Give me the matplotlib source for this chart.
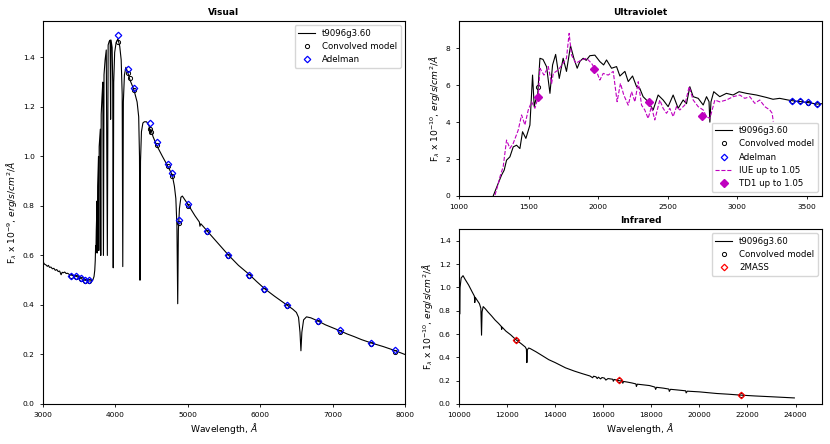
import numpy as np
import matplotlib
matplotlib.use('Agg')
import matplotlib.pyplot as plt

# ---------------- Visual ----------------
vis_wl = [3000, 3020, 3040, 3060, 3075, 3090, 3110, 3130, 3150, 3170, 3190, 3210, 3230, 3250, 3265,
          3280, 3300, 3320, 3340, 3370, 3400, 3430, 3460, 3490, 3520, 3550, 3580, 3610, 3640, 3670,
          3690, 3705, 3715, 3722, 3727, 3731, 3736, 3742, 3747, 3750, 3755, 3762, 3767, 3771, 3776,
          3785, 3792, 3798, 3804, 3815, 3826, 3835, 3843, 3858, 3874, 3889, 3900, 3915, 3928, 3934,
          3940, 3955, 3963, 3970, 3977, 3990, 4010, 4035, 4060, 4080, 4094, 4102, 4110, 4125, 4145,
          4170, 4200, 4255, 4300, 4322, 4333, 4340, 4347, 4360, 4380, 4400, 4430, 4465, 4481, 4490,
          4520, 4570, 4650, 4725, 4785, 4815, 4835, 4850, 4861, 4870, 4885, 4905, 4925, 4960, 5005,
          5100, 5160, 5168, 5180, 5220, 5270, 5300, 5400, 5500, 5560, 5700, 5850, 5950, 6060, 6200,
          6370, 6450, 6500, 6530, 6550, 6563, 6576, 6600, 6640, 6700, 6800, 6900, 7000, 7100, 7200,
          7300, 7400, 7540, 7700, 7850, 8000]
vis_flux = [0.575, 0.565, 0.562, 0.556, 0.560, 0.552, 0.553, 0.546, 0.548, 0.540, 0.543, 0.535, 0.537, 0.522, 0.532,
            0.530, 0.533, 0.527, 0.528, 0.522, 0.520, 0.517, 0.516, 0.511, 0.508, 0.503, 0.500, 0.498, 0.497, 0.497,
            0.502, 0.515, 0.540, 0.580, 0.640, 0.610, 0.700, 0.760, 0.820, 0.610, 0.880, 0.960, 1.000, 0.620, 1.040,
            1.080, 1.110, 0.600, 1.170, 1.240, 1.300, 0.600, 1.330, 1.390, 1.430, 0.600, 1.450, 1.465, 1.470, 1.150,
            1.470, 1.440, 1.300, 0.550, 1.300, 1.420, 1.460, 1.475, 1.445, 1.390, 1.250, 0.555, 1.220, 1.330, 1.360,
            1.340, 1.310, 1.270, 1.220, 1.160, 1.000, 0.500, 0.980, 1.100, 1.135, 1.140, 1.140, 1.125, 1.090, 1.110,
            1.080, 1.045, 1.000, 0.960, 0.925, 0.880, 0.830, 0.720, 0.405, 0.700, 0.790, 0.835, 0.840, 0.825, 0.805,
            0.760, 0.735, 0.718, 0.728, 0.715, 0.698, 0.688, 0.655, 0.622, 0.602, 0.560, 0.523, 0.495, 0.466, 0.435,
            0.400, 0.383, 0.370, 0.350, 0.290, 0.215, 0.290, 0.340, 0.352, 0.348, 0.335, 0.320, 0.308, 0.296, 0.283,
            0.272, 0.260, 0.246, 0.232, 0.217, 0.200]

adel_wl = [3391, 3460, 3520, 3575, 3635, 4035, 4178, 4256, 4472, 4573, 4725, 4785, 4872, 5005,
           5268, 5558, 5847, 6059, 6372, 6804, 7103, 7535, 7857]
adel_flux = [0.519, 0.517, 0.508, 0.500, 0.499, 1.492, 1.355, 1.278, 1.136, 1.058, 0.970, 0.934, 0.743, 0.809,
             0.699, 0.601, 0.522, 0.465, 0.399, 0.336, 0.297, 0.247, 0.218]
conv_vis_wl = [3391, 3460, 3520, 3575, 3635, 4035, 4178, 4200, 4256, 4472, 4490, 4573, 4725, 4785, 4872, 5005,
               5268, 5558, 5847, 6059, 6372, 6804, 7103, 7535, 7857]
conv_vis_flux = [0.516, 0.514, 0.505, 0.497, 0.496, 1.461, 1.335, 1.318, 1.270, 1.112, 1.100, 1.045, 0.960, 0.920, 0.730, 0.800,
                 0.694, 0.598, 0.519, 0.462, 0.396, 0.330, 0.290, 0.241, 0.212]

# ---------------- Ultraviolet ----------------
uv_wl = [1246, 1282, 1306, 1325, 1342, 1366, 1390, 1414, 1438, 1457, 1481, 1510, 1529, 1541, 1552,
         1565, 1582, 1604, 1630, 1654, 1673, 1695, 1721, 1749, 1773, 1802, 1826, 1850, 1870, 1893,
         1915, 1941, 1977, 2013, 2040, 2061, 2097, 2133, 2157, 2193, 2217, 2248, 2277, 2300, 2324,
         2360, 2396, 2432, 2468, 2504, 2540, 2576, 2612, 2636, 2660, 2684, 2720, 2756, 2780, 2798,
         2804, 2812, 2832, 2875, 2923, 2971, 3014, 3067, 3139, 3210, 3258, 3306, 3366, 3397, 3450,
         3510, 3575, 3610]
uv_flux = [0.00, 0.68, 1.13, 1.40, 1.94, 2.12, 2.66, 2.75, 2.57, 3.48, 3.12, 3.84, 6.55, 4.84, 5.20,
           5.38, 7.46, 7.40, 7.00, 5.56, 7.10, 7.67, 6.37, 7.46, 6.75, 8.14, 7.46, 6.92, 7.30, 7.46,
           7.35, 7.60, 7.63, 7.28, 7.10, 7.37, 6.92, 7.01, 6.50, 6.75, 6.20, 6.50, 5.92, 5.83, 5.38,
           5.11, 4.66, 5.47, 5.20, 4.84, 5.47, 4.75, 5.20, 5.00, 5.92, 5.38, 5.29, 4.93, 5.38, 5.11,
           4.00, 5.10, 5.65, 5.38, 5.56, 5.47, 5.65, 5.56, 5.47, 5.34, 5.24, 5.29, 5.20, 5.16, 5.12,
           5.06, 4.98, 5.00]

iue_wl = [1259, 1280, 1295, 1318, 1342, 1366, 1390, 1426, 1450, 1474, 1498, 1522, 1546, 1570, 1582,
          1611, 1642, 1666, 1678, 1714, 1749, 1773, 1792, 1809, 1840, 1881, 1917, 1953, 1989, 2013,
          2037, 2073, 2109, 2137, 2161, 2185, 2217, 2241, 2265, 2289, 2313, 2336, 2360, 2384, 2408,
          2444, 2468, 2492, 2516, 2540, 2564, 2588, 2624, 2655, 2684, 2720, 2756, 2780, 2804, 2840,
          2875, 2923, 2971, 3019, 3055, 3091, 3127, 3163, 3199, 3235, 3252, 3260]
iue_flux = [0.05, 0.60, 1.05, 1.59, 3.03, 2.58, 2.85, 3.57, 4.39, 3.85, 4.66, 5.10, 4.75, 5.38, 6.92,
            6.55, 7.01, 6.10, 6.64, 6.83, 7.19, 7.46, 8.81, 7.64, 7.19, 7.37, 7.46, 7.19, 6.75, 6.28,
            6.64, 6.55, 6.75, 5.11, 6.10, 5.47, 4.92, 5.65, 5.10, 6.19, 4.92, 4.66, 4.20, 4.84, 4.12,
            5.20, 4.75, 4.48, 4.75, 4.30, 4.84, 4.66, 4.93, 5.92, 5.20, 4.84, 4.66, 4.30, 4.20, 5.20,
            5.10, 5.20, 5.38, 5.47, 5.29, 5.38, 5.02, 5.20, 4.84, 4.66, 4.48, 4.03]

td1_wl = [1570, 1970, 2368, 2744]
td1_flux = [5.34, 6.90, 5.07, 4.36]
uv_adel_wl = [3395, 3450, 3510, 3575]
uv_adel_flux = [5.17, 5.15, 5.08, 5.00]
uv_conv_wl = [1565, 3395, 3450, 3510, 3575]
uv_conv_flux = [5.92, 5.15, 5.13, 5.06, 4.98]

# ---------------- Infrared ----------------
ir_wl = [10000, 10015, 10028, 10045, 10090, 10168, 10250, 10400, 10550, 10640, 10657, 10675, 10727, 10850, 10910,
         10938, 10960, 11007, 11100, 11200, 11356, 11500, 11650, 11760, 11775, 11790, 11950, 12150, 12377, 12600,
         12760, 12805, 12824, 12845, 12900, 12964, 13200, 13500, 13733, 14000, 14432, 14800, 15131, 15450, 15560,
         15600, 15700, 15750, 15800, 15890, 15950, 16050, 16110, 16200, 16400, 16420, 16460, 16668, 16800, 16815,
         16850, 17000, 17200, 17360, 17380, 17420, 17927, 18150, 18180, 18220, 18500, 18730, 18750, 18800, 19100,
         19430, 19450, 19500, 20000, 20722, 21200, 21728, 22300, 23000, 23952]
ir_flux = [1.140, 1.060, 0.770, 1.000, 1.080, 1.100, 1.070, 1.020, 0.960, 0.925, 0.870, 0.915, 0.898, 0.860, 0.820,
           0.590, 0.790, 0.835, 0.815, 0.790, 0.755, 0.720, 0.690, 0.665, 0.640, 0.660, 0.625, 0.593, 0.550, 0.515,
           0.488, 0.470, 0.355, 0.465, 0.480, 0.475, 0.448, 0.410, 0.380, 0.355, 0.310, 0.282, 0.260, 0.240, 0.225,
           0.238, 0.233, 0.218, 0.230, 0.215, 0.227, 0.222, 0.205, 0.218, 0.212, 0.195, 0.210, 0.200, 0.195, 0.178,
           0.193, 0.188, 0.180, 0.172, 0.150, 0.170, 0.158, 0.145, 0.125, 0.143, 0.136, 0.128, 0.108, 0.126, 0.120,
           0.113, 0.095, 0.110, 0.104, 0.090, 0.084, 0.076, 0.069, 0.062, 0.052]

tmass_wl = [12377, 16650, 21728]
tmass_flux = [0.548, 0.205, 0.076]
ir_conv_wl = [12377, 16650, 21728]
ir_conv_flux = [0.550, 0.207, 0.078]

model_name = 't9096g3.60'

plt.rcParams.update({
    'font.family': 'DejaVu Sans',
    'xtick.labelsize': 5.4,
    'ytick.labelsize': 5.4,
    'xtick.major.size': 2.5,
    'ytick.major.size': 2.5,
    'xtick.major.width': 0.6,
    'ytick.major.width': 0.6,
    'axes.linewidth': 0.8,
    'legend.fontsize': 6.2,
})

fig = plt.figure(figsize=(8.3, 4.44), dpi=100)
ax_vis = fig.add_axes([0.0518, 0.0901, 0.4361, 0.8626])
ax_uv = fig.add_axes([0.5530, 0.5586, 0.4373, 0.3941])
ax_ir = fig.add_axes([0.5530, 0.0901, 0.4373, 0.3941])

lw = 0.8
conv_kw = dict(marker='o', ls='none', mfc='none', mec='black', ms=3, mew=0.7)
diam_kw = dict(marker='D', ls='none', mfc='none', ms=3.3, mew=0.9)

# Visual
ax_vis.plot(vis_wl, vis_flux, color='black', lw=lw, label=model_name)
ax_vis.plot(conv_vis_wl, conv_vis_flux, label='Convolved model', **conv_kw)
ax_vis.plot(adel_wl, adel_flux, mec='blue', label='Adelman', **diam_kw)
ax_vis.set_xlim(3000, 8000)
ax_vis.set_ylim(0, 1.547)
ax_vis.set_yticks(np.arange(0, 1.41, 0.2))
ax_vis.set_title('Visual', fontsize=6.5, fontweight='bold', pad=4)
ax_vis.set_xlabel('Wavelength, $\\AA$', fontsize=6.6, labelpad=2)
ax_vis.set_ylabel('F$_\\lambda$ x 10$^{-9}$, $erg/s/cm^2/\\AA$', fontsize=6.6, labelpad=3)
ax_vis.legend(loc='upper right')

# Ultraviolet
ax_uv.plot(uv_wl, uv_flux, color='black', lw=lw, label=model_name)
ax_uv.plot(uv_conv_wl, uv_conv_flux, label='Convolved model', **conv_kw)
ax_uv.plot(uv_adel_wl, uv_adel_flux, mec='blue', label='Adelman', **diam_kw)
ax_uv.plot(iue_wl, iue_flux, color='m', ls='--', lw=lw, label='IUE up to 1.05')
ax_uv.plot(td1_wl, td1_flux, marker='D', ls='none', color='m', ms=4, label='TD1 up to 1.05')
ax_uv.set_xlim(1000, 3610)
ax_uv.set_ylim(0, 9.48)
ax_uv.set_yticks([0, 2, 4, 6, 8])
ax_uv.set_title('Ultraviolet', fontsize=6.5, fontweight='bold', pad=4)
ax_uv.set_ylabel('F$_\\lambda$ x 10$^{-10}$, $erg/s/cm^2/\\AA$', fontsize=6.6, labelpad=3)
ax_uv.legend(loc='lower right')

# Infrared
ax_ir.plot(ir_wl, ir_flux, color='black', lw=lw, label=model_name)
ax_ir.plot(ir_conv_wl, ir_conv_flux, label='Convolved model', **conv_kw)
ax_ir.plot(tmass_wl, tmass_flux, mec='red', label='2MASS', **diam_kw)
ax_ir.set_xlim(10000, 25100)
ax_ir.set_ylim(0, 1.5)
ax_ir.set_yticks(np.arange(0, 1.41, 0.2))
ax_ir.set_title('Infrared', fontsize=6.5, fontweight='bold', pad=4)
ax_ir.set_xlabel('Wavelength, $\\AA$', fontsize=6.6, labelpad=2)
ax_ir.set_ylabel('F$_\\lambda$ x 10$^{-10}$, $erg/s/cm^2/\\AA$', fontsize=6.6, labelpad=3)
ax_ir.legend(loc='upper right')

fig.savefig('out.png', dpi=100, facecolor='white')
